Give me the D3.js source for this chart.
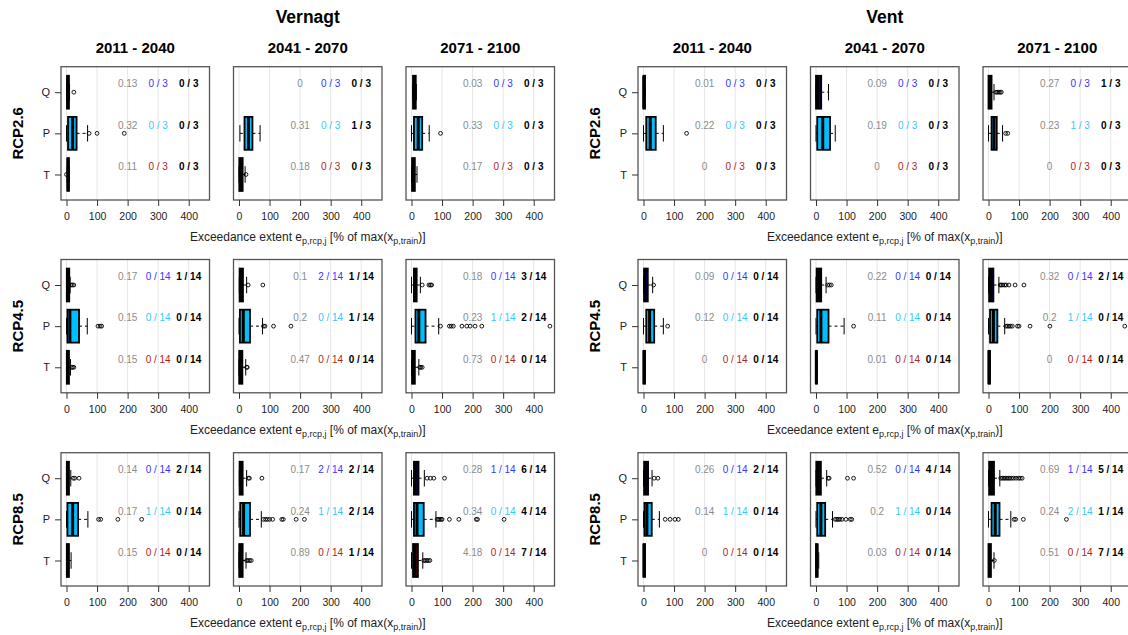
<!DOCTYPE html>
<html>
<head>
<meta charset="utf-8">
<script src="https://cdn.jsdelivr.net/npm/d3@7"></script>
<style>
  body { margin: 0; background: #fff; }
  text { font-family: "Liberation Sans", Arial, sans-serif; }
</style>
</head>
<body>
<script>
//Categories
    const glaciers = ["Vernagt", "Vent"];
    const rcps = ["RCP2.6", "RCP4.5", "RCP8.5"];
    const periods = ["2011 - 2040", "2041 - 2070", "2071 - 2100"];
    const vars = ["Q", "P", "T"];
    const members = [3, 14, 14];
    const xTicks = [0, 100, 200, 300, 400];

//Box stats [lower whisker, q1, median, q3, upper whisker]
//order: Vernagt RCP2.6 (3 periods), RCP4.5, RCP8.5, then Vent the same
    const boxQ = [
        [0, 2, 4, 8, 10], null, [4, 5, 9, 14, 16],
        [0, 1, 4, 9, 12], [1, 2, 6, 13, 25], [0, 8, 11, 17, 29],
        [0, 1, 4, 8, 14], [1, 2, 5, 12, 25], [0, 8, 12, 23, 42],
        [0, 0, 1, 5, 5], [0, 0, 5, 17, 41], [0, 0, 4, 10, 18],
        [0, 2, 5, 14, 30], [0, 2, 11, 17, 33], [0, 2, 8, 16, 34],
        [0, 2, 6, 15, 28], [0, 1, 6, 16, 35], [0, 2, 10, 18, 37]
    ];
    const boxP = [
        [0, 5, 20, 33, 69], [3, 18, 31, 44, 69], [0, 8, 22, 35, 58],
        [0, 3, 11, 41, 68], [0, 3, 14, 36, 77], [0, 13, 24, 46, 89],
        [0, 3, 20, 38, 70], [0, 4, 15, 36, 73], [0, 8, 18, 40, 80],
        [0, 9, 22, 40, 65], [0, 4, 22, 46, 63], [0, 10, 18, 27, 46],
        [0, 9, 20, 35, 65], [0, 4, 16, 41, 92], [0, 5, 16, 29, 53],
        [0, 3, 11, 27, 52], [0, 4, 16, 30, 54], [0, 10, 22, 36, 73]
    ];
    const boxT = [
        [2, 3, 5, 8, 9], [0, 1, 5, 12, 20], [0, 2, 5, 11, 18],
        [0, 1, 4, 8, 13], [0, 1, 4, 11, 22], [0, 2, 5, 11, 24],
        [0, 1, 4, 8, 15], [0, 1, 4, 12, 23], [0, 5, 11, 21, 37],
        null, null, null,
        [0, 0, 2, 5, 5], [0, 0, 1, 3, 3], [0, 0, 2, 5, 5],
        [0, 0, 2, 5, 5], [0, 0, 3, 5, 9], [0, 0, 3, 8, 18]
    ];

//Outliers
    const outQ = [
        [24], [], [],
        [15, 19, 24], [30, 78], [35, 57, 62, 66],
        [22, 27, 41], [31, 34, 75], [51, 62, 73, 108],
        [], [], [24, 28, 33, 38, 42],
        [33], [38, 44, 50], [38, 42, 47, 53, 58, 67, 87, 116],
        [35, 47], [40, 43, 103, 123], [40, 45, 50, 55, 60, 65, 70, 76, 82, 90, 98, 104, 110]
    ];
    const outP = [
        [74, 100, 189], [], [95],
        [103, 110, 115], [80, 85, 113, 170], [95, 124, 130, 137, 165, 181, 192, 208, 230, 453],
        [105, 112, 168, 246], [80, 87, 93, 100, 110, 140, 145, 187, 214], [84, 88, 92, 97, 100, 124, 155, 212, 216, 303],
        [141], [], [56, 63],
        [79], [123], [57, 62, 67, 72, 78, 95, 100, 136, 201, 446],
        [71, 87, 103, 114], [63, 68, 73, 78, 85, 98, 112, 117], [84, 89, 114, 255]
    ];
    const outT = [
        [0], [23], [],
        [16, 20, 24], [25, 27], [27, 30, 35],
        [], [25, 30, 35, 40], [40, 45, 50, 55, 60],
        [], [], [],
        [], [], [],
        [], [], [19]
    ];

//Annotations: grey value, coloured count, black count
    const valQ = ["0.13","0","0.03", "0.17","0.1","0.18", "0.14","0.17","0.28",
                  "0.01","0.09","0.27", "0.09","0.22","0.32", "0.26","0.52","0.69"];
    const valP = ["0.32","0.31","0.33", "0.15","0.2","0.23", "0.17","0.24","0.34",
                  "0.22","0.19","0.23", "0.12","0.11","0.2", "0.14","0.2","0.24"];
    const valT = ["0.11","0.18","0.17", "0.15","0.47","0.73", "0.15","0.89","4.18",
                  "0","0","0", "0","0.01","0", "0","0.03","0.51"];
    const cntQ = [0,0,0, 0,2,0, 0,2,1, 0,0,0, 0,0,0, 0,0,1];
    const cntP = [0,0,0, 0,0,1, 1,1,0, 0,0,1, 0,0,1, 1,1,2];
    const cntT = [0,0,0, 0,0,0, 0,0,0, 0,0,0, 0,0,0, 0,0,0];
    const totQ = [0,0,0, 1,1,3, 2,2,6, 0,0,1, 0,0,2, 2,4,5];
    const totP = [0,1,0, 0,1,2, 0,2,4, 0,0,0, 0,0,0, 0,0,1];
    const totT = [0,0,0, 0,0,0, 0,1,7, 0,0,0, 0,0,0, 0,0,7];

//Layout
    const width = 1128, height = 635;
    const glacierLeft = [61, 638];
    const panelStep = 172.5;
    const pw = 148.5, ph = 133.3;
    const rowTop = [66.7, 259.5, 452.7];

    const fills = {Q: "#000080", P: "#00bfff", T: "#5c0000"};
    const cntColor = {Q: "#3535ff", P: "#35c8ff", T: "#b22222"};
    const boxes = {Q: boxQ, P: boxP, T: boxT};
    const outs = {Q: outQ, P: outP, T: outT};
    const vals = {Q: valQ, P: valP, T: valT};
    const cnts = {Q: cntQ, P: cntP, T: cntT};
    const tots = {Q: totQ, P: totP, T: totT};
    const catPos = {Q: 3, P: 2, T: 1};

//Scales
    const xScale = d3.scaleLinear().domain([-18, 468]).range([0, pw]);
    const yScale = d3.scaleLinear().domain([0.38, 3.62]).range([ph, 0]);
    const half = 0.4;

//SVG
    const svg = d3.select("body").append("svg")
        .attr("width", width)
        .attr("height", height);

    glaciers.forEach((gName, g) => {
        const gl = glacierLeft[g];

        svg.append("text")
            .attr("x", gl + panelStep + pw / 2)
            .attr("y", 23)
            .attr("text-anchor", "middle")
            .attr("font-size", 17.5).attr("font-weight", "bold")
            .text(gName);

        periods.forEach((pName, p) => {
            svg.append("text")
                .attr("x", gl + p * panelStep + pw / 2)
                .attr("y", 53)
                .attr("text-anchor", "middle")
                .attr("font-size", 15).attr("font-weight", "bold")
                .text(pName);
        });

        rcps.forEach((rName, r) => {
            const top = rowTop[r];

            svg.append("text")
                .attr("transform", `translate(${gl - 38},${top + ph / 2}) rotate(-90)`)
                .attr("text-anchor", "middle")
                .attr("font-size", 15).attr("font-weight", "bold")
                .text(rName);

            //axis title under the middle panel
            const title = svg.append("text")
                .attr("x", gl + panelStep + pw / 2)
                .attr("y", top + ph + 41)
                .attr("text-anchor", "middle")
                .attr("font-size", 12)
                .attr("fill", "#222");
            title.append("tspan").text("Exceedance extent e");
            title.append("tspan").attr("font-size", 9).attr("dy", 3).text("p,rcp,j");
            title.append("tspan").attr("dy", -3).text(" [% of max(x");
            title.append("tspan").attr("font-size", 9).attr("dy", 3).text("p,train");
            title.append("tspan").attr("dy", -3).text(")]");

            periods.forEach((pName, p) => {
                const i = g * 9 + r * 3 + p;
                const panel = svg.append("g")
                    .attr("transform", `translate(${gl + p * panelStep},${top})`);

                //grid
                panel.selectAll(".grid")
                    .data(xTicks)
                    .enter().append("line")
                    .attr("x1", d => xScale(d)).attr("x2", d => xScale(d))
                    .attr("y1", 0).attr("y2", ph)
                    .attr("stroke", "#e6e6e6").attr("stroke-width", 1);

                vars.forEach(v => {
                    const b = boxes[v][i];
                    const yc = catPos[v];
                    if (b) {
                        const [lo, q1, med, q3, hi] = b;
                        //whiskers (dashed) and staples
                        panel.append("line")
                            .attr("x1", xScale(lo)).attr("x2", xScale(q1))
                            .attr("y1", yScale(yc)).attr("y2", yScale(yc))
                            .attr("stroke", "#000").attr("stroke-dasharray", "3,3");
                        panel.append("line")
                            .attr("x1", xScale(q3)).attr("x2", xScale(hi))
                            .attr("y1", yScale(yc)).attr("y2", yScale(yc))
                            .attr("stroke", "#000").attr("stroke-dasharray", "3,3");
                        [lo, hi].forEach(w => {
                            panel.append("line")
                                .attr("x1", xScale(w)).attr("x2", xScale(w))
                                .attr("y1", yScale(yc + half / 2)).attr("y2", yScale(yc - half / 2))
                                .attr("stroke", "#000").attr("stroke-width", 1);
                        });
                        //box
                        panel.append("rect")
                            .attr("x", xScale(q1))
                            .attr("y", yScale(yc + half))
                            .attr("width", Math.max(xScale(q3) - xScale(q1), 0.5))
                            .attr("height", yScale(yc - half) - yScale(yc + half))
                            .attr("fill", fills[v])
                            .attr("stroke", "#000").attr("stroke-width", 1.8);
                        //median
                        panel.append("line")
                            .attr("x1", xScale(med)).attr("x2", xScale(med))
                            .attr("y1", yScale(yc + half)).attr("y2", yScale(yc - half))
                            .attr("stroke", "#000").attr("stroke-width", 3);
                    }
                    //outliers
                    panel.selectAll(null)
                        .data(outs[v][i])
                        .enter().append("circle")
                        .attr("cx", d => xScale(d))
                        .attr("cy", yScale(yc))
                        .attr("r", 1.9)
                        .attr("fill", "none")
                        .attr("stroke", "#000").attr("stroke-width", 0.9);

                    //annotations
                    const ty = yScale(yc + 0.2);
                    panel.append("text")
                        .attr("x", xScale(200)).attr("y", ty).attr("dy", "0.35em")
                        .attr("text-anchor", "middle").attr("font-size", 10)
                        .attr("fill", "#8c8c8c")
                        .text(vals[v][i]);
                    panel.append("text")
                        .attr("x", xScale(300)).attr("y", ty).attr("dy", "0.35em")
                        .attr("text-anchor", "middle").attr("font-size", 10)
                        .attr("fill", cntColor[v])
                        .text(cnts[v][i] + " / " + members[r]);
                    panel.append("text")
                        .attr("x", xScale(400)).attr("y", ty).attr("dy", "0.35em")
                        .attr("text-anchor", "middle").attr("font-size", 10)
                        .attr("font-weight", "bold").attr("fill", "#000")
                        .text(tots[v][i] + " / " + members[r]);
                });

                //frame
                panel.append("rect")
                    .attr("x", 0).attr("y", 0)
                    .attr("width", pw).attr("height", ph)
                    .attr("fill", "none")
                    .attr("stroke", "#555").attr("stroke-width", 1.3);

                //x axis
                const xAxis = panel.append("g")
                    .attr("transform", `translate(0,${ph})`)
                    .call(d3.axisBottom(xScale).tickValues(xTicks).tickSize(6).tickPadding(7));
                xAxis.select(".domain").remove();
                xAxis.selectAll("line").attr("stroke", "#333");
                xAxis.selectAll("text").attr("font-size", 10.5).attr("fill", "#222")
                    .attr("font-family", "Liberation Sans, Arial, sans-serif");

                //y axis on first panel only
                if (p === 0) {
                    const yAxis = panel.append("g")
                        .call(d3.axisLeft(yScale).tickValues([1, 2, 3])
                            .tickFormat(d => vars[3 - d]).tickSize(6).tickPadding(5));
                    yAxis.select(".domain").remove();
                    yAxis.selectAll("line").attr("stroke", "#333");
                    yAxis.selectAll("text").attr("font-size", 11).attr("fill", "#222")
                        .attr("font-family", "Liberation Sans, Arial, sans-serif");
                }
            });
        });
    });
</script>
</body>
</html>
